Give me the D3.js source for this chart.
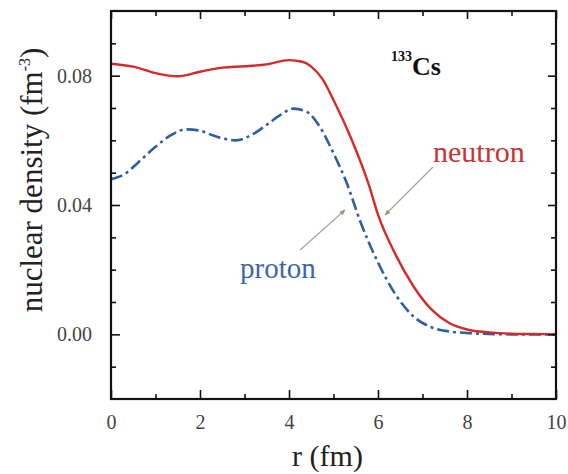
<!DOCTYPE html>
<html>
<head>
<meta charset="utf-8">
<script src="https://cdn.jsdelivr.net/npm/d3@7"></script>
<style>
  body { margin: 0; background: #fff; }
  text { font-family: "Liberation Serif", "Times New Roman", serif; }
</style>
</head>
<body>
<svg id="chart"></svg>
<script>
// 画布尺寸
const W = 568, H = 474;

// 数据：从图上读出来的密度值 (fm^-3)
const neutronR = [0, 0.5, 1.0, 1.5, 2.0, 2.5, 3.0, 3.5, 4.0, 4.3, 4.5, 4.75, 5.0, 5.4, 5.8, 6.0, 6.4, 6.8, 7.2, 7.6, 8.0, 8.5, 9.0, 9.5, 10];
const neutronRho = [0.0837, 0.0828, 0.0808, 0.0798, 0.0812, 0.0825, 0.0829, 0.0835, 0.0848, 0.0843, 0.0828, 0.0790, 0.0725, 0.0605, 0.0460, 0.0370, 0.0245, 0.0148, 0.0077, 0.0035, 0.0015, 0.0006, 0.0002, 0.0001, 0];

const protonR = [0, 0.3, 0.6, 1.0, 1.3, 1.7, 2.0, 2.3, 2.8, 3.2, 3.5, 3.8, 4.1, 4.4, 4.7, 5.0, 5.3, 5.6, 6.0, 6.4, 6.8, 7.2, 7.6, 8.0, 8.5, 9.0, 10];
const protonRho = [0.0480, 0.0495, 0.0530, 0.0580, 0.0612, 0.0634, 0.0630, 0.0615, 0.0600, 0.0620, 0.0648, 0.0678, 0.0698, 0.0688, 0.0640, 0.0560, 0.0467, 0.0350, 0.0222, 0.0122, 0.0055, 0.0022, 0.0009, 0.0004, 0.0001, 0, 0];

const xMajor = [0, 2, 4, 6, 8, 10];
const xMinor = [1, 3, 5, 7, 9];
const yMajor = [0.00, 0.04, 0.08];
const yMinor = [-0.01, 0.01, 0.02, 0.03, 0.05, 0.06, 0.07, 0.09];

const svg = d3.select("#chart").attr("width", W).attr("height", H);

// 绘图区
const pLeft = 111, pRight = 556, pTop = 11, pBottom = 399;

const x = d3.scaleLinear().domain([0, 10]).range([pLeft, pRight]);
const y = d3.scaleLinear().domain([-0.02, 0.10]).range([pBottom, pTop]);

const neutron = neutronR.map((r, i) => [r, neutronRho[i]]);
const proton = protonR.map((r, i) => [r, protonRho[i]]);

const line = d3.line()
  .x(d => x(d[0]))
  .y(d => y(d[1]))
  .curve(d3.curveMonotoneX);

// 曲线
svg.append("path")
  .datum(proton)
  .attr("d", line)
  .attr("fill", "none")
  .attr("stroke", "#2f5f9f")
  .attr("stroke-width", 2.6)
  .attr("stroke-dasharray", "12,4,3,4");

svg.append("path")
  .datum(neutron)
  .attr("d", line)
  .attr("fill", "none")
  .attr("stroke", "#d42a2a")
  .attr("stroke-width", 2.4);

// 坐标轴（刻度朝内，四边都有）
const axisStyle = g => {
  g.select(".domain").remove();
  g.selectAll("line").attr("stroke", "#111").attr("stroke-width", 1.6);
  g.selectAll("text").attr("fill", "#444").style("font-size", "20px")
    .style("font-family", "'Liberation Serif', serif");
};

svg.append("g").attr("transform", `translate(0,${pBottom})`)
  .call(d3.axisBottom(x).tickValues(xMajor).tickSize(-9).tickPadding(16).tickFormat(d3.format("d")))
  .call(axisStyle);
svg.append("g").attr("transform", `translate(0,${pBottom})`)
  .call(d3.axisBottom(x).tickValues(xMinor).tickSize(-5).tickFormat(""))
  .call(axisStyle);
svg.append("g").attr("transform", `translate(0,${pTop})`)
  .call(d3.axisTop(x).tickValues(xMajor).tickSize(-8).tickFormat(""))
  .call(axisStyle);
svg.append("g").attr("transform", `translate(0,${pTop})`)
  .call(d3.axisTop(x).tickValues(xMinor).tickSize(-5).tickFormat(""))
  .call(axisStyle);

svg.append("g").attr("transform", `translate(${pLeft},0)`)
  .call(d3.axisLeft(y).tickValues(yMajor).tickSize(-9).tickPadding(19).tickFormat(d3.format(".2f")))
  .call(axisStyle);
svg.append("g").attr("transform", `translate(${pLeft},0)`)
  .call(d3.axisLeft(y).tickValues(yMinor).tickSize(-5).tickFormat(""))
  .call(axisStyle);
svg.append("g").attr("transform", `translate(${pRight},0)`)
  .call(d3.axisRight(y).tickValues(yMajor).tickSize(-8).tickFormat(""))
  .call(axisStyle);
svg.append("g").attr("transform", `translate(${pRight},0)`)
  .call(d3.axisRight(y).tickValues(yMinor).tickSize(-5).tickFormat(""))
  .call(axisStyle);

// 边框
svg.append("rect")
  .attr("x", pLeft).attr("y", pTop)
  .attr("width", pRight - pLeft).attr("height", pBottom - pTop)
  .attr("fill", "none").attr("stroke", "#111").attr("stroke-width", 2.2);

// 坐标轴标题
svg.append("text")
  .attr("x", (pLeft + pRight) / 2 - 6).attr("y", 466)
  .attr("text-anchor", "middle")
  .style("font-size", "30px").attr("fill", "#222")
  .text("r (fm)");

const yl = svg.append("text")
  .attr("transform", "translate(42,180) rotate(-90)")
  .attr("text-anchor", "middle")
  .style("font-size", "31px").attr("fill", "#222");
yl.append("tspan").text("nuclear density (fm");
yl.append("tspan").attr("dy", -12).style("font-size", "16px").text("-3");
yl.append("tspan").attr("dy", 12).text(")");

// 核素标注
const cs = svg.append("text")
  .attr("x", 391).attr("y", 75)
  .style("font-weight", "bold").attr("fill", "#111");
cs.append("tspan").attr("dy", -14).style("font-size", "14px").text("133");
cs.append("tspan").attr("dy", 14).style("font-size", "26px").text("Cs");

// 箭头
svg.append("defs").append("marker")
  .attr("id", "arr").attr("viewBox", "0 0 10 10")
  .attr("refX", 9).attr("refY", 5)
  .attr("markerWidth", 5).attr("markerHeight", 5)
  .attr("orient", "auto")
  .append("path").attr("d", "M0,1 L10,5 L0,9 Z").attr("fill", "#7fa877");

svg.append("line")
  .attr("x1", 433).attr("y1", 167).attr("x2", 385).attr("y2", 215)
  .attr("stroke", "#8fb088").attr("stroke-width", 1.2)
  .attr("marker-end", "url(#arr)");
svg.append("line")
  .attr("x1", 300).attr("y1", 250).attr("x2", 345).attr("y2", 210)
  .attr("stroke", "#8fb088").attr("stroke-width", 1.2)
  .attr("marker-end", "url(#arr)");

// 曲线标签
svg.append("text")
  .attr("x", 433).attr("y", 162)
  .style("font-size", "30px").attr("fill", "#c83434")
  .text("neutron");
svg.append("text")
  .attr("x", 240).attr("y", 278)
  .style("font-size", "29px").attr("fill", "#3a68a8")
  .text("proton");
</script>
</body>
</html>
